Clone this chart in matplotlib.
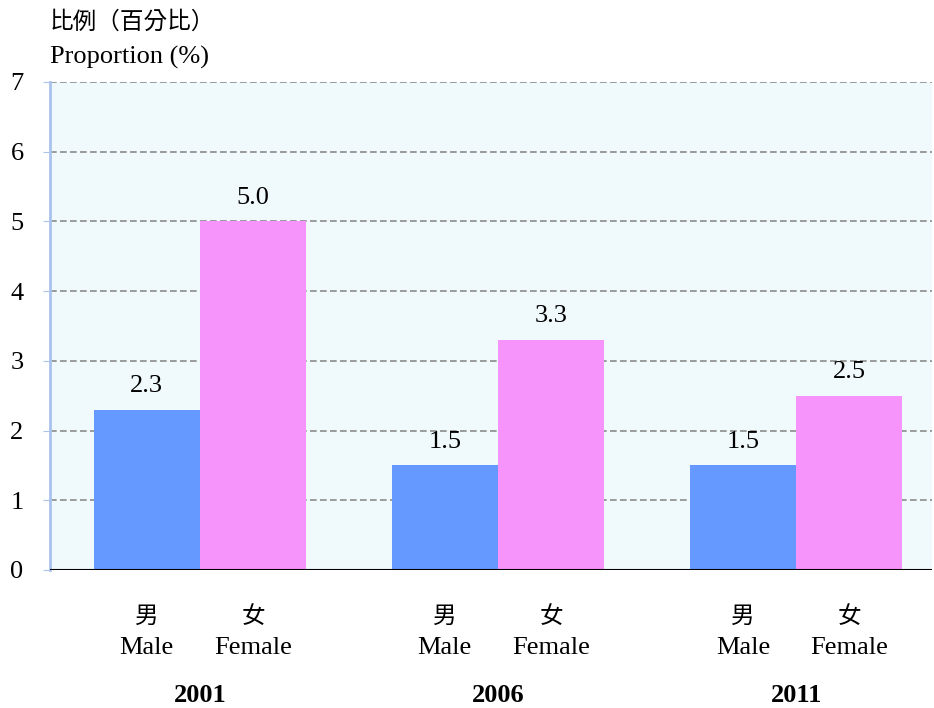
import matplotlib
matplotlib.use("Agg")
import matplotlib.pyplot as plt
import matplotlib.transforms as mtransforms
import numpy as np

plt.rcParams['font.family'] = ['Liberation Serif', 'Noto Sans CJK TC', 'DejaVu Sans']

years = ["2001", "2006", "2011"]
male = [2.3, 1.5, 1.5]
female = [5.0, 3.3, 2.5]
sex_zh = ["男", "女"]
sex_en = ["Male", "Female"]
y_ticks = [0, 1, 2, 3, 4, 5, 6, 7]

MALE_COLOR = "#6699ff"
FEMALE_COLOR = "#f794fc"
BG_COLOR = "#f0f9fb"
SPINE_COLOR = "#a9c3ec"
FS = 19

fig = plt.figure(figsize=(9.34, 7.08), dpi=100)
ax = fig.add_axes([50 / 934, (708 - 570) / 708, 882 / 934, 488 / 708])
ax.set_facecolor(BG_COLOR)

x = np.arange(len(years))
w = 0.357
ax.bar(x - w / 2, male, w, color=MALE_COLOR, zorder=3)
ax.bar(x + w / 2, female, w, color=FEMALE_COLOR, zorder=3)

for xi, m, f in zip(x, male, female):
    ax.annotate(f"{m:.1f}", (xi - w / 2, m), xytext=(0, 9), textcoords="offset points",
                ha="center", va="bottom", fontsize=FS)
    ax.annotate(f"{f:.1f}", (xi + w / 2, f), xytext=(0, 9), textcoords="offset points",
                ha="center", va="bottom", fontsize=FS)

ax.set_xlim(-0.503, 2.456)
ax.set_ylim(0, 7)
ax.set_yticks(y_ticks)
ax.set_xticks([])
ax.tick_params(axis="y", length=5, color=SPINE_COLOR, labelsize=FS, pad=14)

for yv in y_ticks[1:]:
    ax.axhline(yv, color="#8c8c8c", lw=1.2, ls=(0, (4, 2)), zorder=2)
ax.axhline(0, color="black", lw=1.5, zorder=4)

for s in ["top", "right", "bottom"]:
    ax.spines[s].set_visible(False)
ax.spines["left"].set_color(SPINE_COLOR)
ax.spines["left"].set_linewidth(2)

trans = mtransforms.blended_transform_factory(ax.transData, ax.transAxes)
for xi, yr in zip(x, years):
    for off, zh, en in zip([-w / 2, w / 2], sex_zh, sex_en):
        ax.text(xi + off, -0.096, zh, transform=trans, ha="center", va="center",
                fontsize=FS - 2, family=['Noto Sans CJK TC'], fontweight="light")
        ax.text(xi + off, -0.16, en, transform=trans, ha="center", va="center", fontsize=FS)
    ax.text(xi, -0.258, yr, transform=trans, ha="center", va="center",
            fontsize=FS, fontweight="bold")

fig.text(50 / 934, 1 - 22 / 708, "比例（百分比）", ha="left", va="center", fontsize=FS - 2,
         family=['Noto Sans CJK TC'], fontweight="light")
fig.text(50 / 934, 1 - 57 / 708, "Proportion (%)", ha="left", va="center", fontsize=FS)

fig.savefig("out.png", dpi=100, facecolor="white")
